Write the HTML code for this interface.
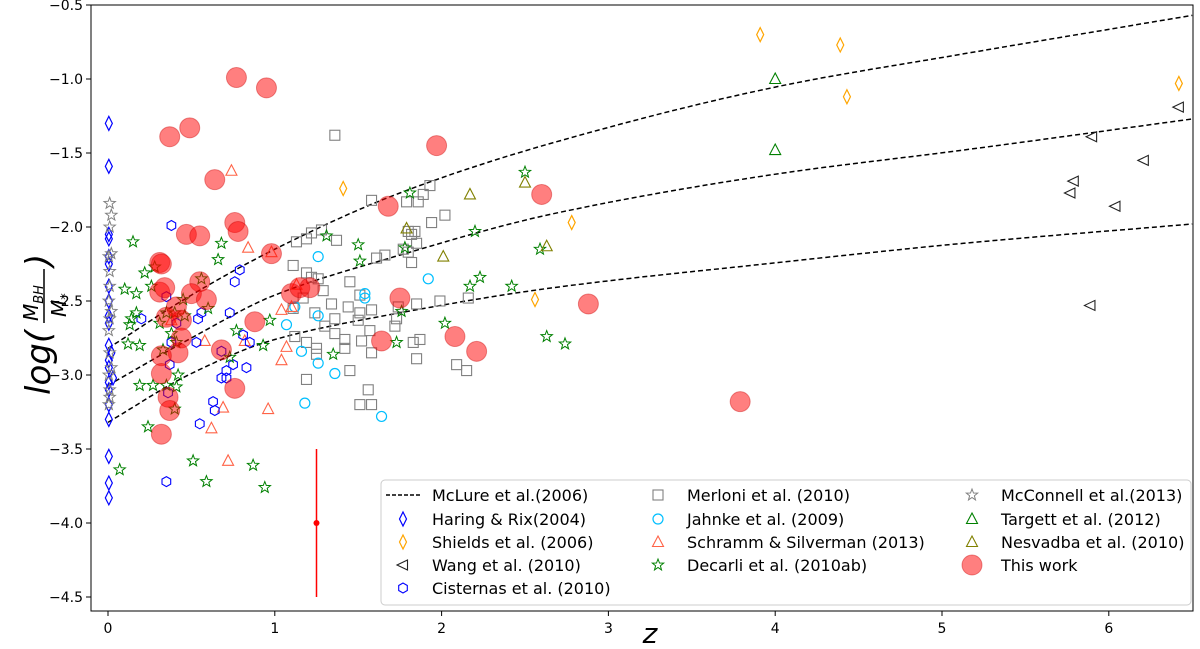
<!DOCTYPE html>
<html><head><meta charset="utf-8"><style>
body{margin:0;background:#fff;}
svg{display:block;font-family:"DejaVu Sans","Liberation Sans",sans-serif;}
</style></head><body>
<svg id="chart" width="1200" height="649">
<g id="marks"></g>
<rect x="91" y="5" width="1102" height="606" fill="none" stroke="#000" stroke-width="1"/>
<g id="axes"></g>
<text x="650" y="643" font-size="28" font-style="italic" text-anchor="middle">z</text>
<g transform="translate(50,305) rotate(-90)">
<text x="-90" y="0" font-size="34" font-style="italic">log(</text>
<text x="-16" y="-12" font-size="20" font-style="italic">M<tspan font-size="13" dy="5">BH</tspan></text>
<line x1="-18" y1="-6" x2="36" y2="-6" stroke="#000" stroke-width="1.5"/>
<text x="-12" y="16" font-size="20" font-style="italic">M<tspan font-size="13" dy="4">*</tspan></text>
<text x="38" y="0" font-size="34" font-style="italic">)</text>
</g>
<g id="legend"></g>
</svg>
<script>
const xTicks=[0,1,2,3,4,5,6];
const yTicks=[-0.5,-1.0,-1.5,-2.0,-2.5,-3.0,-3.5,-4.0,-4.5];
const curveZ=[0,0.5,1,1.75,2.67,4.02,5.13,6.5];
const curveTop=[-2.82,-2.46,-2.15,-1.77,-1.43,-1.05,-0.83,-0.57];
const curveMid=[-3.07,-2.75,-2.46,-2.19,-1.91,-1.64,-1.48,-1.27];
const curveBot=[-3.32,-2.99,-2.76,-2.58,-2.41,-2.24,-2.11,-1.98];
const haring=[[0.005,-1.30],[0.005,-1.59],[0.005,-2.05],[0.005,-2.08],[0.005,-2.2],[0.005,-2.25],[0.005,-2.4],[0.005,-2.5],[0.005,-2.6],[0.005,-2.65],[0.005,-2.8],[0.005,-2.9],[0.005,-2.95],[0.005,-3.05],[0.005,-3.1],[0.005,-3.2],[0.005,-3.3],[0.005,-3.55],[0.005,-3.73],[0.005,-3.83],[0.02,-2.85],[0.03,-3.02]];
const shields=[[3.91,-0.70],[4.39,-0.77],[4.43,-1.12],[6.42,-1.03],[1.41,-1.74],[2.78,-1.97],[2.56,-2.49]];
const wang=[[6.42,-1.19],[5.90,-1.39],[6.21,-1.55],[5.79,-1.69],[5.77,-1.77],[6.04,-1.86],[5.89,-2.53]];
const cisternas=[[0.38,-1.99],[0.79,-2.29],[0.76,-2.37],[0.35,-2.47],[0.56,-2.58],[0.54,-2.62],[0.73,-2.58],[0.38,-2.78],[0.53,-2.78],[0.41,-2.65],[0.68,-2.84],[0.75,-2.93],[0.85,-2.78],[0.83,-2.95],[0.71,-2.97],[0.71,-3.02],[0.68,-3.02],[0.63,-3.18],[0.64,-3.24],[0.55,-3.33],[0.35,-3.72],[0.37,-2.93],[0.36,-3.12],[0.81,-2.73],[0.20,-2.62]];
const merloni=[[1.36,-1.38],[1.93,-1.72],[1.89,-1.78],[1.58,-1.82],[1.79,-1.83],[1.86,-1.83],[1.84,-2.03],[1.80,-2.03],[1.82,-2.05],[2.02,-1.92],[1.94,-1.97],[1.28,-2.02],[1.22,-2.04],[1.37,-2.09],[1.13,-2.10],[1.19,-2.08],[1.66,-2.19],[1.61,-2.21],[1.80,-2.17],[1.77,-2.15],[1.85,-2.11],[1.82,-2.24],[1.11,-2.26],[1.19,-2.31],[1.22,-2.34],[1.26,-2.35],[1.45,-2.37],[1.29,-2.43],[1.17,-2.48],[1.51,-2.46],[1.44,-2.54],[1.34,-2.52],[1.58,-2.56],[1.51,-2.58],[1.74,-2.54],[1.85,-2.52],[1.99,-2.50],[2.16,-2.48],[1.73,-2.62],[1.50,-2.63],[1.36,-2.62],[1.24,-2.58],[1.11,-2.55],[1.30,-2.67],[1.36,-2.72],[1.42,-2.76],[1.57,-2.70],[1.52,-2.77],[1.72,-2.67],[1.87,-2.76],[1.83,-2.78],[1.12,-2.74],[1.19,-2.78],[1.25,-2.82],[1.25,-2.86],[1.58,-2.85],[1.85,-2.89],[1.42,-2.82],[1.45,-2.97],[2.09,-2.93],[2.15,-2.97],[1.19,-3.03],[1.56,-3.10],[1.51,-3.20],[1.58,-3.20]];
const jahnke=[[1.26,-2.20],[1.92,-2.35],[1.54,-2.45],[1.07,-2.66],[1.12,-2.54],[1.26,-2.60],[1.16,-2.84],[1.26,-2.92],[1.36,-2.99],[1.18,-3.19],[1.64,-3.28],[1.54,-2.48]];
const schramm=[[0.74,-1.62],[0.84,-2.14],[0.98,-2.17],[1.04,-2.56],[1.10,-2.54],[1.07,-2.81],[1.04,-2.90],[0.58,-2.77],[0.82,-2.77],[0.69,-3.22],[0.96,-3.23],[0.62,-3.36],[0.72,-3.58],[1.13,-2.39],[0.38,-2.63]];
const decarli=[[0.15,-2.10],[0.13,-2.66],[0.14,-2.62],[0.17,-2.58],[0.22,-2.31],[0.26,-2.40],[0.28,-2.27],[0.10,-2.42],[0.17,-2.45],[0.19,-2.80],[0.12,-2.79],[0.31,-2.65],[0.38,-2.72],[0.40,-2.58],[0.35,-2.58],[0.41,-2.78],[0.42,-3.00],[0.35,-3.07],[0.27,-3.07],[0.19,-3.07],[0.41,-3.08],[0.40,-3.23],[0.24,-3.35],[0.07,-3.64],[0.51,-3.58],[0.59,-3.72],[0.87,-3.61],[0.94,-3.76],[0.66,-2.22],[0.68,-2.11],[0.60,-2.55],[0.56,-2.35],[0.73,-2.88],[0.77,-2.70],[0.93,-2.80],[0.97,-2.63],[1.31,-2.06],[1.50,-2.12],[1.51,-2.23],[1.35,-2.86],[1.78,-2.14],[1.81,-1.77],[1.73,-2.78],[1.76,-2.57],[2.02,-2.65],[2.17,-2.40],[2.23,-2.34],[2.20,-2.03],[2.42,-2.40],[2.50,-1.63],[2.59,-2.15],[2.63,-2.74],[2.74,-2.79],[0.45,-2.49],[0.46,-2.60],[0.33,-2.83]];
const mcconnell=[[0.01,-1.84],[0.02,-1.92],[0.01,-2.0],[0.005,-2.2],[0.02,-2.18],[0.01,-2.3],[0.01,-2.4],[0.005,-2.5],[0.02,-2.57],[0.005,-2.7],[0.01,-2.85],[0.02,-2.95],[0.005,-3.0],[0.01,-3.1],[0.005,-3.2],[0.01,-2.62],[0.01,-3.15]];
const targett=[[4.0,-1.0],[4.0,-1.48]];
const nesvadba=[[1.79,-2.01],[2.17,-1.78],[2.01,-2.20],[2.50,-1.70],[2.63,-2.13]];
const thisWork=[[0.77,-0.99],[0.95,-1.06],[0.37,-1.39],[0.49,-1.33],[0.64,-1.68],[1.97,-1.45],[1.68,-1.86],[2.60,-1.78],[0.76,-1.97],[0.78,-2.03],[0.47,-2.05],[0.55,-2.06],[0.98,-2.18],[0.31,-2.24],[0.32,-2.25],[0.31,-2.44],[0.34,-2.41],[0.55,-2.37],[0.50,-2.45],[0.59,-2.49],[0.41,-2.54],[1.10,-2.45],[1.15,-2.41],[1.21,-2.41],[1.75,-2.48],[2.88,-2.52],[0.35,-2.61],[0.44,-2.63],[0.88,-2.64],[0.44,-2.75],[2.08,-2.74],[0.42,-2.85],[0.32,-2.87],[2.21,-2.84],[1.64,-2.77],[0.68,-2.83],[0.32,-2.99],[0.76,-3.09],[0.36,-3.15],[0.37,-3.24],[0.32,-3.40],[3.79,-3.18]];
const errZ=[1.25], errV=[-4.0], errLo=[-4.5], errHi=[-3.5];

const NS="http://www.w3.org/2000/svg";
const X=z=>108+z*166.8;
const Y=v=>5+(-0.5-v)*148;
function mk(tag,at,parent){const e=document.createElementNS(NS,tag);for(const k in at)e.setAttribute(k,at[k]);parent.appendChild(e);return e;}
const marks=document.getElementById('marks'),axes=document.getElementById('axes'),leg=document.getElementById('legend');
function starPts(cx,cy,R){let p=[];for(let i=0;i<10;i++){const r=i%2?R*0.42:R;const a=-Math.PI/2+i*Math.PI/5;p.push((cx+r*Math.cos(a)).toFixed(1)+','+(cy+r*Math.sin(a)).toFixed(1));}return p.join(' ');}
function marker(type,cx,cy,color,parent){
  let e;
  if(type==='diamond')e=mk('polygon',{points:`${cx},${cy-7} ${cx+3.5},${cy} ${cx},${cy+7} ${cx-3.5},${cy}`,fill:'none',stroke:color,'stroke-width':1.2},parent);
  else if(type==='square')e=mk('rect',{x:cx-5,y:cy-5,width:10,height:10,fill:'none',stroke:color,'stroke-width':1.1},parent);
  else if(type==='circle')e=mk('circle',{cx:cx,cy:cy,r:5,fill:'none',stroke:color,'stroke-width':1.2},parent);
  else if(type==='tri')e=mk('polygon',{points:`${cx},${cy-6} ${cx+5.5},${cy+4.5} ${cx-5.5},${cy+4.5}`,fill:'none',stroke:color,'stroke-width':1.1},parent);
  else if(type==='tril')e=mk('polygon',{points:`${cx-6},${cy} ${cx+4.5},${cy-5} ${cx+4.5},${cy+5}`,fill:'none',stroke:color,'stroke-width':1.1},parent);
  else if(type==='hex'){let p=[];for(let i=0;i<6;i++){const a=Math.PI/6+i*Math.PI/3;p.push((cx+5*Math.cos(a)).toFixed(1)+','+(cy+5*Math.sin(a)).toFixed(1));}e=mk('polygon',{points:p.join(' '),fill:'none',stroke:color,'stroke-width':1.1},parent);}
  else if(type==='star')e=mk('polygon',{points:starPts(cx,cy,6),fill:'none',stroke:color,'stroke-width':1},parent);
  else if(type==='big')e=mk('circle',{cx:cx,cy:cy,r:10,fill:'rgba(255,0,0,0.5)',stroke:'rgba(200,0,0,0.4)','stroke-width':1},parent);
  return e;
}
// monotone cubic (Fritsch-Carlson) interpolation of v(z)
function curvePath(xs,ys){
  const n=xs.length,d=[],m=[];
  for(let i=0;i<n-1;i++)d.push((ys[i+1]-ys[i])/(xs[i+1]-xs[i]));
  m[0]=d[0];m[n-1]=d[n-2];
  for(let i=1;i<n-1;i++)m[i]=(d[i-1]*d[i]<=0)?0:2/(1/d[i-1]+1/d[i]);
  let pts=[];
  for(let i=0;i<n-1;i++){const h=xs[i+1]-xs[i];for(let k=0;k<20;k++){const t=k/20,t2=t*t,t3=t2*t;
    const v=(2*t3-3*t2+1)*ys[i]+(t3-2*t2+t)*h*m[i]+(-2*t3+3*t2)*ys[i+1]+(t3-t2)*h*m[i+1];
    pts.push([X(xs[i]+t*h),Y(v)]);}}
  pts.push([X(xs[n-1]),Y(ys[n-1])]);
  return 'M'+pts.map(p=>p[0].toFixed(1)+','+p[1].toFixed(1)).join('L');
}
const cTop=mk('path',{d:curvePath(curveZ,curveTop),fill:'none',stroke:'#000','stroke-width':1.5,'stroke-dasharray':'5,3'},marks);


const cMid=mk('path',{d:curvePath(curveZ,curveMid),fill:'none',stroke:'#000','stroke-width':1.5,'stroke-dasharray':'5,3'},marks);


const cBot=mk('path',{d:curvePath(curveZ,curveBot),fill:'none',stroke:'#000','stroke-width':1.5,'stroke-dasharray':'5,3'},marks);


const series=[
 ['haring-rix-point',haring,'diamond','#0000ff'],
 ['shields-point',shields,'diamond','#ffa500'],
 ['wang-point',wang,'tril','#222'],
 ['merloni-point',merloni,'square','#808080'],
 ['jahnke-point',jahnke,'circle','#00bfff'],
 ['schramm-point',schramm,'tri','#ff6347'],
 ['cisternas-point',cisternas,'hex','#0000ff'],
 ['decarli-point',decarli,'star','#008000'],
 ['mcconnell-point',mcconnell,'star','#808080'],
 ['targett-point',targett,'tri','#008000'],
 ['nesvadba-point',nesvadba,'tri','#808000'],
 ['this-work-point',thisWork,'big','red']
];
series.forEach(s=>{s[1].forEach(d=>{const e=marker(s[2],X(d[0]),Y(d[1]),s[3],marks);

});});
errZ.forEach((z,i)=>{const l=mk('line',{x1:X(z),x2:X(z),y1:Y(errLo[i]),y2:Y(errHi[i]),stroke:'red','stroke-width':1.5},marks);


const c=mk('circle',{cx:X(z),cy:Y(errV[i]),r:3,fill:'red'},marks);

});
// ticks
xTicks.forEach(t=>{mk('line',{x1:X(t),x2:X(t),y1:611,y2:616,stroke:'#000'},axes);
const tx=mk('text',{x:X(t),y:633,'font-size':14,'text-anchor':'middle'},axes);tx.textContent=t;

});
yTicks.forEach(t=>{mk('line',{x1:86,x2:91,y1:Y(t),y2:Y(t),stroke:'#000'},axes);
const tx=mk('text',{x:83,y:Y(t)+5,'font-size':14,'text-anchor':'end'},axes);tx.textContent='\u2212'+Math.abs(t).toFixed(1);

});
// legend
mk('rect',{x:381,y:480,width:810,height:125,rx:4,fill:'rgba(255,255,255,0.85)',stroke:'#ccc'},leg);
const legItems=[
 [403,495,'dash','#000','McLure et al.(2006)'],[403,519,'diamond','#0000ff','Haring & Rix(2004)'],[403,542,'diamond','#ffa500','Shields et al. (2006)'],[403,565,'tril','#222','Wang et al. (2010)'],[403,588,'hex','#0000ff','Cisternas et al. (2010)'],
 [658,495,'square','#808080','Merloni et al. (2010)'],[658,519,'circle','#00bfff','Jahnke et al. (2009)'],[658,542,'tri','#ff6347','Schramm & Silverman (2013)'],[658,565,'star','#008000','Decarli et al. (2010ab)'],
 [972,495,'star','#808080','McConnell et al.(2013)'],[972,519,'tri','#008000','Targett et al. (2012)'],[972,542,'tri','#808000','Nesvadba et al. (2010)'],[972,565,'big','red','This work']
];
legItems.forEach(it=>{
 if(it[2]==='dash')mk('line',{x1:386,x2:420,y1:it[1],y2:it[1],stroke:'#000','stroke-width':1.5,'stroke-dasharray':'4,2'},leg);
 else marker(it[2],it[0],it[1],it[3],leg);
 const t=mk('text',{x:it[0]+29,y:it[1]+6,'font-size':16},leg);t.textContent=it[4];
 
 
});
</script>
</body></html>
